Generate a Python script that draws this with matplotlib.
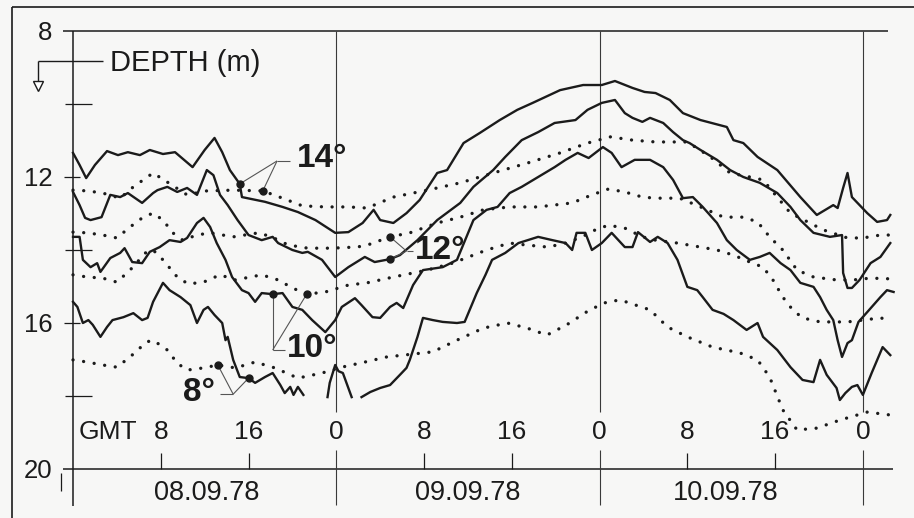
import numpy as np
import matplotlib
matplotlib.use("Agg")
import matplotlib.pyplot as plt

# time in hours after 00 GMT on 08.09.78, depth in m
# measured isotherms (solid)
hours_14 = [0, 0.6, 1.2, 2.0, 3.1, 4.1, 5.0, 6.1, 7.0, 8.2, 9.3, 10.9, 12.0, 12.9, 13.6, 14.3,
            15.2, 15.4, 17.5, 19.1, 20.5, 22.1, 23.9, 25.1, 26.4, 27.4, 28.0, 29.2, 30.4, 31.6,
            33.2, 34.1, 35.6, 37.1, 38.9, 40.5, 41.9, 44.4, 46.5, 48.2, 49.4, 51.0, 52.1, 53.1,
            54.4, 55.6, 57.2, 59.6, 60.2, 61.1, 62.4, 64.2, 66.3, 67.8, 69.3, 69.7, 70.2, 70.6,
            71.0, 72.4, 73.3, 74.2, 74.5]
depth_14 = [11.34, 11.67, 12.03, 11.67, 11.29, 11.40, 11.32, 11.40, 11.26, 11.37, 11.32, 11.73,
            11.26, 10.93, 11.32, 11.81, 12.19, 12.55, 12.68, 12.82, 12.96, 13.18, 13.53, 13.51,
            13.26, 12.90, 13.18, 13.26, 12.99, 12.63, 11.89, 11.81, 11.07, 10.79, 10.44, 10.16,
            9.97, 9.62, 9.48, 9.48, 9.37, 9.56, 9.67, 9.70, 9.89, 10.25, 10.44, 10.63, 10.99,
            11.07, 11.45, 11.81, 12.55, 13.04, 12.77, 12.85, 12.30, 11.89, 12.55, 12.99, 13.23,
            13.18, 13.04]

hours_12 = [0, 0.6, 1.1, 1.6, 2.6, 3.4, 4.3, 5.0, 6.3, 7.3, 7.7, 8.6, 9.5, 10.4, 11.3, 12.2,
            12.8, 13.4, 14.1, 15.0, 16.0, 17.2, 18.2, 18.7, 20.0, 20.9, 21.4, 22.7, 23.9, 25.1,
            26.6, 27.5, 28.9, 29.8, 31.4, 33.2, 35.3, 36.5, 38.3, 39.4, 40.9, 42.4, 43.9, 45.8,
            46.9, 48.2, 49.4, 50.3, 51.0, 51.9, 52.6, 53.8, 54.7, 55.6, 56.2, 57.2, 58.7, 59.9,
            61.1, 62.6, 64.2, 65.4, 66.3, 67.5, 69.0, 70.1, 70.2, 70.6, 71.0, 71.7, 72.7, 73.6,
            74.5]
depth_12 = [12.41, 12.77, 13.12, 13.18, 13.10, 12.49, 12.55, 12.44, 12.71, 12.44, 12.36, 12.27,
            12.41, 12.30, 12.49, 11.81, 11.95, 12.49, 12.77, 13.18, 13.59, 13.73, 13.64, 13.81,
            14.00, 14.08, 14.05, 14.27, 14.74, 14.47, 14.19, 14.33, 14.25, 14.14, 13.73, 13.18,
            12.71, 12.27, 11.81, 11.45, 10.99, 10.77, 10.52, 10.44, 10.16, 9.97, 9.89, 10.25,
            10.38, 10.49, 10.38, 10.52, 10.77, 10.99, 11.07, 11.26, 11.53, 11.81, 12.00, 12.16,
            12.44, 12.82, 13.18, 13.53, 13.64, 13.59, 14.63, 15.04, 15.04, 14.82, 14.36, 14.19,
            13.81]

hours_10 = [0, 0.6, 0.9, 1.6, 2.2, 2.5, 3.4, 4.3, 4.7, 5.4, 6.3, 7.0, 7.9, 8.8, 9.8, 10.4,
            11.3, 11.9, 12.5, 13.1, 13.9, 14.5, 15.4, 16.0, 16.6, 17.2, 18.2, 19.1, 20.0, 20.9,
            21.8, 23.0, 23.9, 24.5, 25.7, 26.3, 27.3, 28.0, 28.9, 29.5, 30.1, 31.0, 31.9, 33.7,
            35.0, 36.5, 37.7, 38.7, 39.8, 40.9, 42.4, 43.9, 44.9, 46.0, 47.0, 48.3, 49.1, 50.0,
            51.2, 52.6, 53.8, 54.7, 55.6, 56.5, 57.4, 58.7, 59.6, 60.5, 61.7, 62.6, 63.5, 64.5,
            65.4, 66.3, 67.5, 68.1, 68.7, 69.3, 69.7, 70.1, 70.6, 71.0, 71.6, 72.4, 73.6, 74.2,
            74.8]
depth_10 = [13.64, 13.64, 14.27, 14.47, 14.36, 14.60, 14.22, 14.08, 13.95, 14.33, 14.36, 14.05,
            13.92, 13.73, 13.78, 13.67, 13.26, 13.12, 13.37, 13.81, 14.27, 14.74, 15.10, 15.18,
            15.42, 15.18, 15.21, 15.18, 15.56, 15.64, 15.92, 16.25, 15.92, 15.56, 15.32, 15.51,
            15.84, 15.86, 15.56, 15.45, 15.59, 14.96, 14.55, 14.47, 14.27, 13.18, 12.90, 12.82,
            12.44, 12.27, 12.00, 11.73, 11.53, 11.34, 11.48, 11.18, 11.34, 11.73, 11.53, 11.53,
            11.73, 12.08, 12.58, 12.55, 12.82, 13.26, 13.73, 14.00, 14.27, 14.19, 14.08, 14.36,
            14.55, 14.90, 15.01, 15.29, 15.64, 15.92, 16.47, 16.93, 16.55, 16.47, 15.97, 15.70,
            15.29, 15.10, 15.15]

# the 8 deg isotherm leaves the record below 18 m (gaps = nan)
hours_8 = [0, 0.4, 0.9, 1.4, 1.8, 2.5, 3.1, 3.6, 4.6, 5.5, 6.3, 6.8, 7.3, 8.2, 8.8, 9.8, 10.7,
           11.3, 11.9, 12.3, 12.9, 13.6, 13.9, 14.1, 14.6, 15.2, 16.0, 16.6, 17.5, 18.2, 18.9,
           19.3, 19.8, 20.1, 20.5, 21.0, np.nan,
           23.2, 23.4, 23.9, 24.2, 24.6, 25.0, 25.4, np.nan,
           26.3, 27.1, 28.0, 28.9, 29.8, 30.4, 30.7, 31.4, 31.9, 32.8, 33.7, 35.0, 35.7, 36.8,
           37.6, 38.2, 39.4, 40.6, 42.4, 43.7, 44.9, 45.5, 45.9, 46.7, 47.3, 48.2, 49.1, 50.3,
           51.0, 51.5, 52.6, 53.3, 54.2, 55.1, 56.0, 56.9, 57.4, 58.3, 59.3, 60.2, 61.4, 62.4,
           62.9, 64.2, 65.4, 66.5, 67.5, 68.1, 68.7, 69.6, 69.9, 70.4, 71.0, 71.5, 72.0, 72.8,
           73.8, 74.5]
depth_8 = [15.42, 15.56, 16.00, 15.92, 16.05, 16.38, 16.11, 15.92, 15.84, 15.73, 15.92, 15.86,
           15.42, 14.90, 15.10, 15.29, 15.51, 16.00, 15.64, 15.56, 15.78, 16.00, 16.47, 16.38,
           17.01, 17.48, 17.51, 17.64, 17.48, 17.37, 17.70, 17.92, 17.75, 17.97, 17.75, 17.97,
           np.nan,
           18.03, 17.64, 17.15, 17.32, 17.37, 17.70, 18.03, np.nan,
           18.03, 17.89, 17.78, 17.70, 17.42, 17.23, 17.01, 16.38, 15.86, 15.92, 15.97, 16.00,
           15.97, 15.18, 14.68, 14.27, 14.08, 13.81, 13.64, 13.73, 13.81, 14.00, 13.53, 13.53,
           14.00, 13.81, 13.53, 13.92, 13.92, 13.51, 13.78, 13.64, 13.81, 14.27, 15.01, 15.10,
           15.29, 15.64, 15.75, 15.92, 16.19, 16.00, 16.38, 16.74, 17.21, 17.56, 17.62, 17.01,
           17.42, 17.78, 18.11, 17.92, 17.75, 17.70, 17.97, 17.37, 16.66, 16.88]

# computed isotherm depths (dotted)
hours_14c = [0, 1.3, 2.7, 4.3, 5.5, 7.3, 8.6, 10.4, 12.2, 14.6, 17.3, 19.1, 20.9, 23.0, 25.1,
             26.8, 29.2, 32.3, 35.3, 38.3, 41.4, 44.4, 46.9, 49.0, 51.0, 53.1, 56.0, 58.1, 59.9,
             61.7, 62.9, 65.4, 68.4, 70.6, 72.0, 73.6, 74.5]
depth_14c = [12.36, 12.38, 12.44, 12.58, 12.27, 11.89, 12.14, 12.49, 12.38, 12.36, 12.38, 12.58,
             12.79, 12.82, 12.82, 12.85, 12.55, 12.36, 12.16, 11.89, 11.62, 11.34, 11.07, 10.90,
             10.99, 11.04, 11.04, 11.45, 11.89, 12.00, 12.08, 12.99, 13.45, 13.67, 13.67, 13.59,
             13.59]

hours_12c = [0, 1.3, 2.7, 4.0, 5.2, 6.4, 7.3, 8.2, 9.1, 10.0, 11.3, 12.5, 14.6, 16.9, 18.1,
             19.6, 21.4, 23.6, 25.7, 26.6, 28.9, 30.7, 33.2, 35.3, 37.4, 39.8, 42.4, 45.5, 47.3,
             48.8, 50.3, 51.9, 53.1, 55.3, 57.2, 59.3, 61.1, 62.4, 63.5, 64.7, 66.0, 67.5, 69.6,
             71.1, 72.7, 74.5]
depth_12c = [13.51, 13.53, 13.59, 13.67, 13.37, 13.10, 12.99, 13.18, 13.53, 13.73, 13.59, 13.53,
             13.64, 13.53, 13.64, 13.86, 13.95, 13.95, 13.92, 13.89, 13.64, 13.53, 13.26, 13.10,
             12.90, 12.82, 12.82, 12.71, 12.49, 12.33, 12.41, 12.55, 12.58, 12.58, 12.82, 13.10,
             13.10, 13.23, 13.64, 14.00, 14.55, 14.74, 14.82, 14.82, 14.77, 14.79]

hours_10c = [0, 1.3, 2.7, 4.0, 5.2, 6.7, 7.3, 8.2, 9.5, 10.5, 11.9, 13.4, 14.8, 17.2, 18.7,
             20.0, 21.3, 23.0, 25.1, 26.8, 29.2, 32.3, 34.6, 37.7, 39.8, 41.2, 43.3, 44.9, 46.4,
             47.6, 48.8, 50.3, 51.9, 53.1, 55.1, 57.2, 58.7, 60.2, 61.7, 62.9, 63.8, 64.7, 65.6,
             66.5, 68.1, 70.6, 72.0, 73.6, 74.5]
depth_10c = [14.68, 14.74, 14.77, 14.88, 14.55, 14.05, 14.00, 14.27, 14.74, 14.93, 14.88, 14.68,
             14.82, 14.68, 14.82, 15.04, 15.21, 15.15, 14.96, 14.90, 14.74, 14.55, 14.36, 14.00,
             13.81, 13.86, 13.92, 13.81, 13.64, 13.45, 13.32, 13.40, 13.64, 13.73, 13.81, 13.92,
             14.00, 14.14, 14.33, 14.47, 14.82, 15.29, 15.64, 15.86, 15.97, 15.97, 15.92, 15.86,
             15.92]

hours_8c = [0, 1.3, 2.7, 4.0, 5.2, 6.7, 7.3, 8.6, 9.5, 10.4, 11.9, 13.2, 14.8, 16.6, 18.4, 20.5,
            22.7, 24.5, 26.6, 28.6, 32.8, 35.0, 37.4, 39.6, 41.4, 43.2, 45.0, 47.1, 48.7, 49.9,
            52.6, 54.2, 56.0, 58.3, 60.8, 62.4, 63.5, 64.7, 66.0, 67.8, 69.9, 72.4, 74.5]
depth_8c = [17.01, 17.07, 17.15, 17.21, 16.93, 16.52, 16.47, 16.74, 17.10, 17.29, 17.23, 17.15,
            17.23, 17.07, 17.23, 17.51, 17.37, 17.21, 17.07, 16.93, 16.79, 16.47, 16.14, 16.00,
            16.14, 16.33, 16.05, 15.64, 15.42, 15.37, 15.64, 16.11, 16.38, 16.66, 16.82, 17.01,
            17.48, 18.38, 18.93, 18.88, 18.66, 18.44, 18.52]

hour_ticks = [8, 16, 24, 32, 40, 48, 56, 64, 72]
hour_labels = ["8", "16", "0", "8", "16", "0", "8", "16", "0"]
day_labels = ["08.09.78", "09.09.78", "10.09.78"]
day_centres = [12.2, 36.0, 59.5]
depth_ticks = [8, 12, 16, 20]

INK = "#1b1b1b"
plt.rcParams["font.family"] = ["Liberation Sans", "DejaVu Sans"]

fig = plt.figure(figsize=(9.14, 5.18), dpi=100, facecolor="#f7f7f6")
ax = fig.add_axes([0, 0, 1, 1])
ax.set_xlim(-6.655, 76.66)
ax.set_ylim(21.342, 7.151)
ax.axis("off")


def line(xs, ys, **kw):
    kw.setdefault("color", INK)
    kw.setdefault("lw", 1.1)
    ax.plot(xs, ys, solid_capstyle="butt", **kw)


# outer page frame
line([-5.56, -5.56], [21.4, 7.342], lw=1.2)
line([-5.56, 76.7], [7.342, 7.342], lw=1.2)

# frame of the plot
line([-0.9, 74.3], [8, 8])
line([-0.9, 74.75], [20, 20])
line([0, 0], [8, 21.0])
line([-1.1, -1.1], [20.1, 20.6], lw=0.9)
for d in [10, 14, 18]:
    line([-0.75, 1.7], [d, d], lw=0.9)
for d in [12, 16]:
    line([-0.8, 0.6], [d, d], lw=0.9)
for t in hour_ticks:
    if t % 24 == 0:
        line([t, t], [8, 18.44], lw=0.8, color="#3a3a3a")
        line([t, t], [19.48, 20.98], lw=0.8, color="#3a3a3a")
    else:
        line([t, t], [19.55, 20], lw=0.9)

# tick labels
for d in depth_ticks:
    ax.text(-1.9, d + 0.06, str(d), ha="right", va="center", fontsize=18.5, color=INK)
for t, lab in zip(hour_ticks, hour_labels):
    ax.text(t, 18.99, lab, ha="center", va="center", fontsize=19, color=INK)
ax.text(5.9, 18.99, "GMT", ha="right", va="center", fontsize=19, color=INK)
for c, lab in zip(day_centres, day_labels):
    ax.text(c, 20.66, lab, ha="center", va="center", fontsize=19.5, color=INK)

# axis title with its arrow
ax.text(3.4, 8.88, "DEPTH (m)", ha="left", va="center", fontsize=21, color=INK)
line([-3.19, 2.7], [8.82, 8.82], lw=1.0)
line([-3.19, -3.19], [8.82, 9.45], lw=1.0)
ax.plot([-3.19], [9.52], marker="v", ms=7, mfc="white", mec=INK, mew=1.0)

# isotherms
dotted = dict(color=INK, lw=2.4, ls=(0, (0.01, 3.2)), dash_capstyle="round")
for h, d in [(hours_14, depth_14), (hours_12, depth_12), (hours_10, depth_10), (hours_8, depth_8)]:
    ax.plot(h, d, color=INK, lw=1.7, solid_joinstyle="round")
for h, d in [(hours_14c, depth_14c), (hours_12c, depth_12c), (hours_10c, depth_10c),
             (hours_8c, depth_8c)]:
    ax.plot(h, d, **dotted)


def depth_at(h, d, t):
    h = np.asarray(h, float)
    d = np.asarray(d, float)
    ok = ~np.isnan(d)
    return np.interp(t, h[ok], d[ok])


# labels with leader lines: (text, text x, text y, ha, corner, tail, marks)
labels = [
    ("14°", 20.4, 11.48, "left", (18.6, 11.56), (19.8, 11.56),
     [(hours_14, depth_14, 15.2), (hours_14c, depth_14c, 17.3)]),
    ("12°", 31.2, 14.0, "left", (30.4, 14.03), (31.0, 14.03),
     [(hours_12, depth_12, 28.9), (hours_12c, depth_12c, 28.9)]),
    ("10°", 19.5, 16.71, "left", (18.2, 16.74), (19.3, 16.74),
     [(hours_10, depth_10, 18.2), (hours_10c, depth_10c, 21.3)]),
    ("8°", 12.9, 17.9, "right", (14.6, 17.95), (13.4, 17.95),
     [(hours_8, depth_8, 16.0), (hours_8c, depth_8c, 13.2)]),
]
for txt, tx, ty, ha, corner, tail, marks in labels:
    ax.text(tx, ty, txt, ha=ha, va="center", fontsize=24, fontweight="bold", color=INK)
    line([corner[0], tail[0]], [corner[1], tail[1]], lw=0.8, color="#555555")
    for h, d, t in marks:
        y = depth_at(h, d, t)
        line([corner[0], t], [corner[1], y], lw=0.8, color="#555555")
        ax.plot([t], [y], "o", ms=5, color=INK)

fig.savefig("out.png", dpi=100, facecolor=fig.get_facecolor())
